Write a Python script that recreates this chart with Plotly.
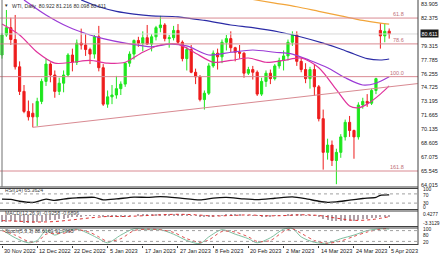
import plotly.graph_objects as go

# ---------------- data ----------------
tick_idx = [0, 8, 16, 24, 32, 40, 48, 56, 64, 72, 80, 88]
tick_labels = ["30 Nov 2022", "12 Dec 2022", "22 Dec 2022", "5 Jan 2023", "17 Jan 2023",
               "27 Jan 2023", "8 Feb 2023", "20 Feb 2023", "2 Mar 2023", "14 Mar 2023",
               "24 Mar 2023", "5 Apr 2023"]

opens = [78.30, 80.50, 81.30, 80.00, 77.00, 74.30, 72.10, 71.90, 71.50, 73.20,
         75.40, 77.30, 76.10, 74.30, 75.20, 76.10, 78.30, 77.50, 79.60, 79.40,
         78.90, 78.40, 80.30, 76.90, 72.90, 73.70, 73.90, 74.60, 75.10, 77.40,
         78.40, 79.90, 79.60, 80.20, 79.50, 80.30, 81.30, 81.60, 80.10, 80.20,
         81.00, 79.70, 77.90, 78.90, 76.40, 75.90, 73.40, 74.10, 77.10, 78.50,
         78.10, 79.70, 80.10, 79.10, 78.60, 78.50, 76.30, 76.70, 76.40, 74.00,
         75.40, 76.30, 75.70, 77.10, 77.70, 78.20, 79.70, 80.50, 77.60, 76.70,
         75.70, 76.70, 74.80, 71.30, 67.60, 68.40, 66.70, 67.60, 69.30, 70.90,
         70.00, 69.30, 72.80, 73.20, 73.00, 74.40, 81.00, 80.40, 80.922]
highs = [80.70, 83.25, 82.40, 82.70, 77.60, 75.00, 73.30, 73.00, 73.60, 75.70,
         77.90, 77.50, 76.60, 75.80, 76.60, 78.50, 79.00, 80.00, 81.20, 80.60,
         79.10, 80.50, 81.50, 77.30, 74.40, 75.00, 76.00, 75.40, 77.50, 78.70,
         80.00, 80.30, 80.90, 81.60, 80.60, 81.50, 82.60, 81.80, 80.50, 81.50,
         81.70, 79.90, 79.20, 79.40, 76.80, 76.10, 74.40, 77.40, 78.80, 79.00,
         80.00, 80.50, 80.90, 79.20, 79.40, 78.60, 77.00, 77.10, 76.60, 75.80,
         76.60, 76.70, 77.30, 78.00, 78.80, 80.00, 80.90, 80.90, 78.00, 77.40,
         77.00, 77.30, 75.00, 72.30, 69.10, 68.90, 68.00, 69.60, 71.20, 71.60,
         70.10, 73.10, 73.60, 74.00, 74.60, 75.80, 81.80, 81.80, 81.216]
lows = [77.90, 80.30, 79.40, 76.70, 73.90, 71.90, 71.10, 70.35, 70.50, 72.90,
        74.90, 75.30, 73.60, 73.90, 74.20, 75.90, 76.50, 77.20, 78.90, 78.20,
        77.30, 77.90, 76.50, 72.70, 72.50, 72.90, 73.50, 73.90, 74.80, 77.00,
        77.80, 79.20, 78.70, 79.40, 78.70, 79.90, 80.80, 79.80, 79.10, 79.90,
        79.40, 77.60, 76.60, 76.30, 75.10, 73.20, 72.30, 73.90, 76.90, 76.70,
        77.40, 78.80, 78.60, 77.60, 77.90, 75.80, 76.10, 75.60, 73.80, 73.80,
        74.80, 75.10, 75.50, 76.80, 76.60, 77.70, 79.30, 77.10, 76.40, 75.20,
        74.60, 73.80, 71.00, 65.70, 66.80, 66.10, 64.10, 67.00, 68.90, 69.30,
        66.90, 69.00, 72.40, 72.60, 72.80, 74.00, 79.00, 79.70, 80.098]
closes = [80.50, 81.30, 80.00, 77.00, 74.30, 72.10, 71.50, 71.50, 73.20, 75.40,
          77.30, 76.10, 74.30, 75.20, 76.10, 78.30, 77.50, 79.60, 79.40, 78.90,
          78.40, 80.30, 76.90, 72.90, 73.70, 73.90, 74.60, 75.10, 77.40, 78.40,
          79.90, 79.60, 80.20, 79.50, 80.30, 81.30, 81.60, 80.10, 80.20, 81.00,
          79.70, 77.90, 78.90, 76.40, 75.90, 73.40, 74.10, 77.10, 78.50, 78.10,
          79.70, 80.10, 79.10, 78.60, 78.50, 76.30, 76.70, 76.40, 74.00, 75.40,
          76.30, 75.70, 77.10, 77.70, 78.20, 79.70, 80.50, 77.60, 76.70, 75.70,
          76.70, 74.80, 71.30, 67.60, 68.40, 66.70, 67.60, 69.30, 70.90, 70.00,
          69.30, 72.80, 73.20, 73.00, 74.40, 75.70, 80.40, 80.90, 80.611]

# moving averages (at sparse bars)
ma_orange_idx = [57, 62, 67, 72, 77, 82, 86, 88]
ma_orange = [84.40, 84.00, 83.60, 83.10, 82.60, 82.10, 81.80, 81.70]
ma_navy_idx = [18, 22, 26, 30, 34, 40, 46, 52, 57, 63, 68, 73, 77, 80, 83, 86, 88]
ma_navy = [84.35, 83.60, 83.10, 82.80, 82.60, 82.50, 82.10, 81.60, 81.30, 80.83,
           80.28, 79.60, 78.96, 78.41, 77.90, 77.75, 77.86]
ma_purple_idx = [5, 10, 15, 20, 23, 28, 34, 38, 42, 47, 52, 57, 62, 66, 70, 74, 78, 82, 85, 88]
ma_purple = [84.35, 82.70, 81.40, 80.50, 80.10, 79.60, 79.20, 79.50, 79.30, 78.30,
             78.60, 78.85, 78.60, 78.40, 77.70, 76.90, 75.80, 75.00, 75.20, 75.90]
ma_magenta_idx = [0, 4, 8, 12, 16, 20, 24, 28, 32, 36, 40, 44, 48, 52, 56, 60, 64,
                  68, 72, 76, 79, 81, 83, 86, 88]
ma_magenta = [81.70, 80.50, 78.60, 77.40, 77.50, 77.70, 77.40, 77.50, 78.60, 79.40,
              79.50, 78.50, 77.50, 77.70, 77.97, 77.50, 77.70, 77.97, 76.90, 74.50,
              72.70, 72.50, 72.90, 74.00, 74.90]

fib_levels = ["61.8", "78.6", "100.0", "161.8"]
fib_prices = [82.36, 79.52, 75.92, 65.55]
trend_idx = [7, 94.5]
trend_price = [70.35, 75.16]

price_ticks = [83.905, 82.375, 80.845, 79.315, 77.785, 76.255, 74.725, 73.195,
               71.665, 70.135, 68.605, 67.075, 65.545, 64.015]
last_price = 80.611

rsi_idx = [0, 2, 4, 7, 10, 12, 15, 17, 21, 23, 26, 30, 33, 36, 40, 45, 48, 51, 55,
           58, 62, 66, 69, 72, 74, 76, 79, 82, 85, 86, 88]
rsi_vals = [47, 46, 38, 33, 47, 42, 50, 53, 55, 44, 48, 56, 55, 58, 53, 44, 52, 55,
            48, 45, 51, 57, 49, 38, 33, 35, 43, 50, 55, 64, 65.36]

macd_vals = [-2.9, -2.7, -2.6, -2.7, -2.9, -3.2, -3.3, -3.31, -3.1, -2.8,
             -2.4, -2.1, -2.0, -1.8, -1.6, -1.2, -1.0, -0.7, -0.5, -0.35,
             -0.3, -0.05, -0.1, -0.5, -0.7, -0.8, -0.8, -0.7, -0.5, -0.3,
             0.0, 0.1, 0.2, 0.25, 0.3, 0.38, 0.43, 0.38, 0.35, 0.38,
             0.3, 0.1, 0.05, -0.15, -0.35, -0.7, -0.85, -0.7, -0.45, -0.3,
             -0.05, 0.15, 0.2, 0.2, 0.18, 0.0, -0.05, -0.12, -0.38, -0.45,
             -0.42, -0.45, -0.35, -0.2, -0.05, 0.15, 0.35, 0.25, 0.1, -0.1,
             -0.15, -0.35, -0.8, -1.5, -1.95, -2.4, -2.6, -2.6, -2.5, -2.45,
             -2.45, -2.1, -1.8, -1.6, -1.35, -1.05, -0.75, -0.85, -0.93]
sig_idx = [0, 4, 8, 12, 16, 20, 24, 28, 32, 36, 40, 44, 48, 52, 56, 60, 64, 68, 72,
           76, 80, 84, 88]
sig_vals = [-2.3, -2.6, -2.9, -2.7, -2.0, -1.2, -0.6, -0.6, -0.3, 0.1, 0.3, 0.1, -0.4,
            -0.2, 0.05, -0.3, -0.25, 0.1, -0.2, -1.3, -2.2, -1.9, -0.69]

stoch_idx = [0, 3, 6, 8, 10, 12, 14, 17, 20, 22, 24, 27, 30, 33, 36, 39, 42, 45, 47,
             50, 53, 56, 58, 61, 64, 66, 68, 71, 74, 77, 80, 83, 86, 88]
stoch_k = [85, 40, 12, 25, 80, 55, 75, 88, 60, 35, 12, 55, 90, 85, 85, 60, 25, 8, 45,
           85, 60, 35, 12, 40, 88, 92, 45, 15, 10, 35, 55, 80, 90, 88.6]
stoch_d = [80, 55, 20, 18, 60, 65, 65, 85, 70, 45, 20, 35, 80, 88, 85, 70, 35, 15, 28,
           75, 72, 45, 20, 25, 75, 90, 65, 25, 10, 22, 48, 72, 88, 91.8]

# ---------------- layout helpers ----------------
W, H = 440, 254
PW, PH = 418, 245  # plot area in px


def py(ypx):
    return 1 - ypx / PH


def px(xpx):
    return xpx / PW


FIB = "#d98a92"
GREEN = "#1ee61e"
RED = "#ee1c1c"
AX = "#404040"

n = len(closes)
xs = list(range(n))

fig = go.Figure()
fig.add_trace(go.Candlestick(
    x=xs, open=opens, high=highs, low=lows, close=closes,
    increasing=dict(line=dict(color=GREEN, width=1), fillcolor=GREEN),
    decreasing=dict(line=dict(color=RED, width=1), fillcolor=RED),
    whiskerwidth=0, xaxis="x", yaxis="y", showlegend=False))

for ix, vals, col in [(ma_orange_idx, ma_orange, "#f2a53a"),
                      (ma_navy_idx, ma_navy, "#2b2ba6"),
                      (ma_purple_idx, ma_purple, "#9b3bd6"),
                      (ma_magenta_idx, ma_magenta, "#e0329c")]:
    fig.add_trace(go.Scatter(x=ix, y=vals, mode="lines", line=dict(color=col, width=1.2,
                             shape="spline", smoothing=0.8), yaxis="y", showlegend=False))

fig.add_trace(go.Scatter(x=trend_idx, y=trend_price, mode="lines",
                         line=dict(color=FIB, width=1), yaxis="y", showlegend=False))

# RSI
fig.add_trace(go.Scatter(x=rsi_idx, y=rsi_vals, mode="lines",
                         line=dict(color="#111111", width=1.3, shape="spline", smoothing=0.6),
                         yaxis="y2", showlegend=False))
# MACD
fig.add_trace(go.Bar(x=xs, y=macd_vals, width=0.22, marker=dict(color="#b0a0a8", line=dict(width=0)),
                     yaxis="y3", showlegend=False))
fig.add_trace(go.Scatter(x=sig_idx, y=sig_vals, mode="lines",
                         line=dict(color="#e03030", width=1, dash="dot", shape="spline"),
                         yaxis="y3", showlegend=False))
# Stoch
fig.add_trace(go.Scatter(x=stoch_idx, y=stoch_k, mode="lines",
                         line=dict(color="#7fbfa0", width=1, shape="spline", smoothing=0.8),
                         yaxis="y4", showlegend=False))
fig.add_trace(go.Scatter(x=stoch_idx, y=stoch_d, mode="lines",
                         line=dict(color="#e05050", width=1, dash="dot", shape="spline", smoothing=0.8),
                         yaxis="y4", showlegend=False))

shapes = []
for p in fib_prices:
    shapes.append(dict(type="line", xref="paper", yref="y", x0=0, x1=1, y0=p, y1=p,
                       line=dict(color=FIB, width=1)))
shapes.append(dict(type="line", xref="paper", yref="y", x0=0, x1=1, y0=last_price, y1=last_price,
                   line=dict(color="#d8d8d8", width=1)))
for ypx in [187, 188.5, 209.5, 211, 226.5, 228, 244.5]:
    shapes.append(dict(type="line", xref="paper", yref="paper", x0=0, x1=1, y0=py(ypx), y1=py(ypx),
                       line=dict(color=AX, width=1)))
shapes.append(dict(type="line", xref="paper", yref="paper", x0=1, x1=1, y0=py(245), y1=1,
                   line=dict(color=AX, width=1)))
shapes.append(dict(type="line", xref="paper", yref="paper", x0=px(2), x1=px(2), y0=py(187), y1=1,
                   line=dict(color="#707070", width=1)))
# level lines
for lv in [70, 30]:
    shapes.append(dict(type="line", xref="paper", yref="y2", x0=0, x1=1, y0=lv, y1=lv,
                       line=dict(color="#a0a0a0", width=1, dash="dot")))
for lv in [80, 20]:
    shapes.append(dict(type="line", xref="paper", yref="y4", x0=0, x1=1, y0=lv, y1=lv,
                       line=dict(color="#a0a0a0", width=1, dash="dot")))

FONT = "Liberation Sans, Arial, sans-serif"
ann = []
for t, p in zip(fib_levels, fib_prices):
    ann.append(dict(text=t, xref="paper", yref="y", x=px(406), y=p, xanchor="right",
                    yanchor="bottom", showarrow=False, font=dict(size=5.5, color="#c07078", family=FONT),
                    yshift=-1))
for i, t in zip(tick_idx, tick_labels):
    ann.append(dict(text=t, xref="x", yref="paper", x=i, y=0, xanchor="left", yanchor="top",
                    showarrow=False, font=dict(size=5.6, color="#202020", family=FONT), xshift=0, yshift=-1))
ann.append(dict(text="WTI, Daily  80.922 81.216 80.098 80.611", xref="paper", yref="paper",
                x=px(10), y=py(1), xanchor="left", yanchor="top", showarrow=False,
                font=dict(size=5.2, color="#303030", family=FONT)))
ann.append(dict(text="\u25bc", xref="paper", yref="paper", x=px(2), y=py(1), xanchor="left",
                yanchor="top", showarrow=False, font=dict(size=4.5, color="#303030", family=FONT)))
for t, ypx in [("RSI(14) 65.3624", 190), ("MACD(12,26,9) -0.9258 -0.6896", 213),
               ("Stoch(5,3,3) 88.6169 91.7965", 231)]:
    ann.append(dict(text=t, xref="paper", yref="paper", x=px(3), y=py(ypx), xanchor="left",
                    yanchor="middle", showarrow=False, font=dict(size=5.2, color="#404040", family=FONT)))
# sub-window scale labels
for t, ypx in [("100", 189.6), ("70", 195.6), ("30", 203), ("0", 207.6),
               ("0.4277", 214), ("-3.3129", 223), ("100", 229.2), ("80", 235), ("20", 242)]:
    ann.append(dict(text=t, xref="paper", yref="paper", x=px(421), y=py(ypx), xanchor="left",
                    yanchor="middle", showarrow=False, font=dict(size=4.9, color="#202020", family=FONT)))
ann.append(dict(text=f"{last_price:.3f}", xref="paper", yref="y", x=px(420), y=last_price,
                xanchor="left", yanchor="middle", showarrow=False, bgcolor="#1a1a1a",
                font=dict(size=5.4, color="white", family=FONT), borderpad=0.5))

price_text = ["" if abs(v - 80.845) < 1e-6 else f"{v:.3f}" for v in price_ticks]

fig.update_layout(
    width=W, height=H, margin=dict(l=0, r=W - PW, t=0, b=H - PH),
    paper_bgcolor="white", plot_bgcolor="white", bargap=0, barmode="overlay",
    xaxis=dict(range=[-0.455, 94.55], showgrid=False, zeroline=False, showticklabels=False,
               tickvals=tick_idx, ticks="outside", ticklen=2, tickcolor=AX,
               anchor="y4", rangeslider=dict(visible=False), showline=False),
    yaxis=dict(domain=[py(187), 1], range=[83.905 - 183 * 0.10991, 83.905 + 4 * 0.10991],
               side="right", anchor="x", showgrid=False, zeroline=False, tickvals=price_ticks,
               ticktext=price_text, ticks="", ticklabelstandoff=2,
               tickfont=dict(size=5.5, color="#202020", family=FONT)),
    yaxis2=dict(domain=[py(210), py(187)], range=[0, 100], showgrid=False, zeroline=False,
                showticklabels=False, anchor="x"),
    yaxis3=dict(domain=[py(227), py(210)], range=[-4.98, 2.09], showgrid=False,
                zeroline=False, showticklabels=False, anchor="x"),
    yaxis4=dict(domain=[0, py(227)], range=[0, 100], showgrid=False, zeroline=False,
                showticklabels=False, anchor="x"),
    shapes=shapes, annotations=ann,
)

fig.write_html("out.html")
